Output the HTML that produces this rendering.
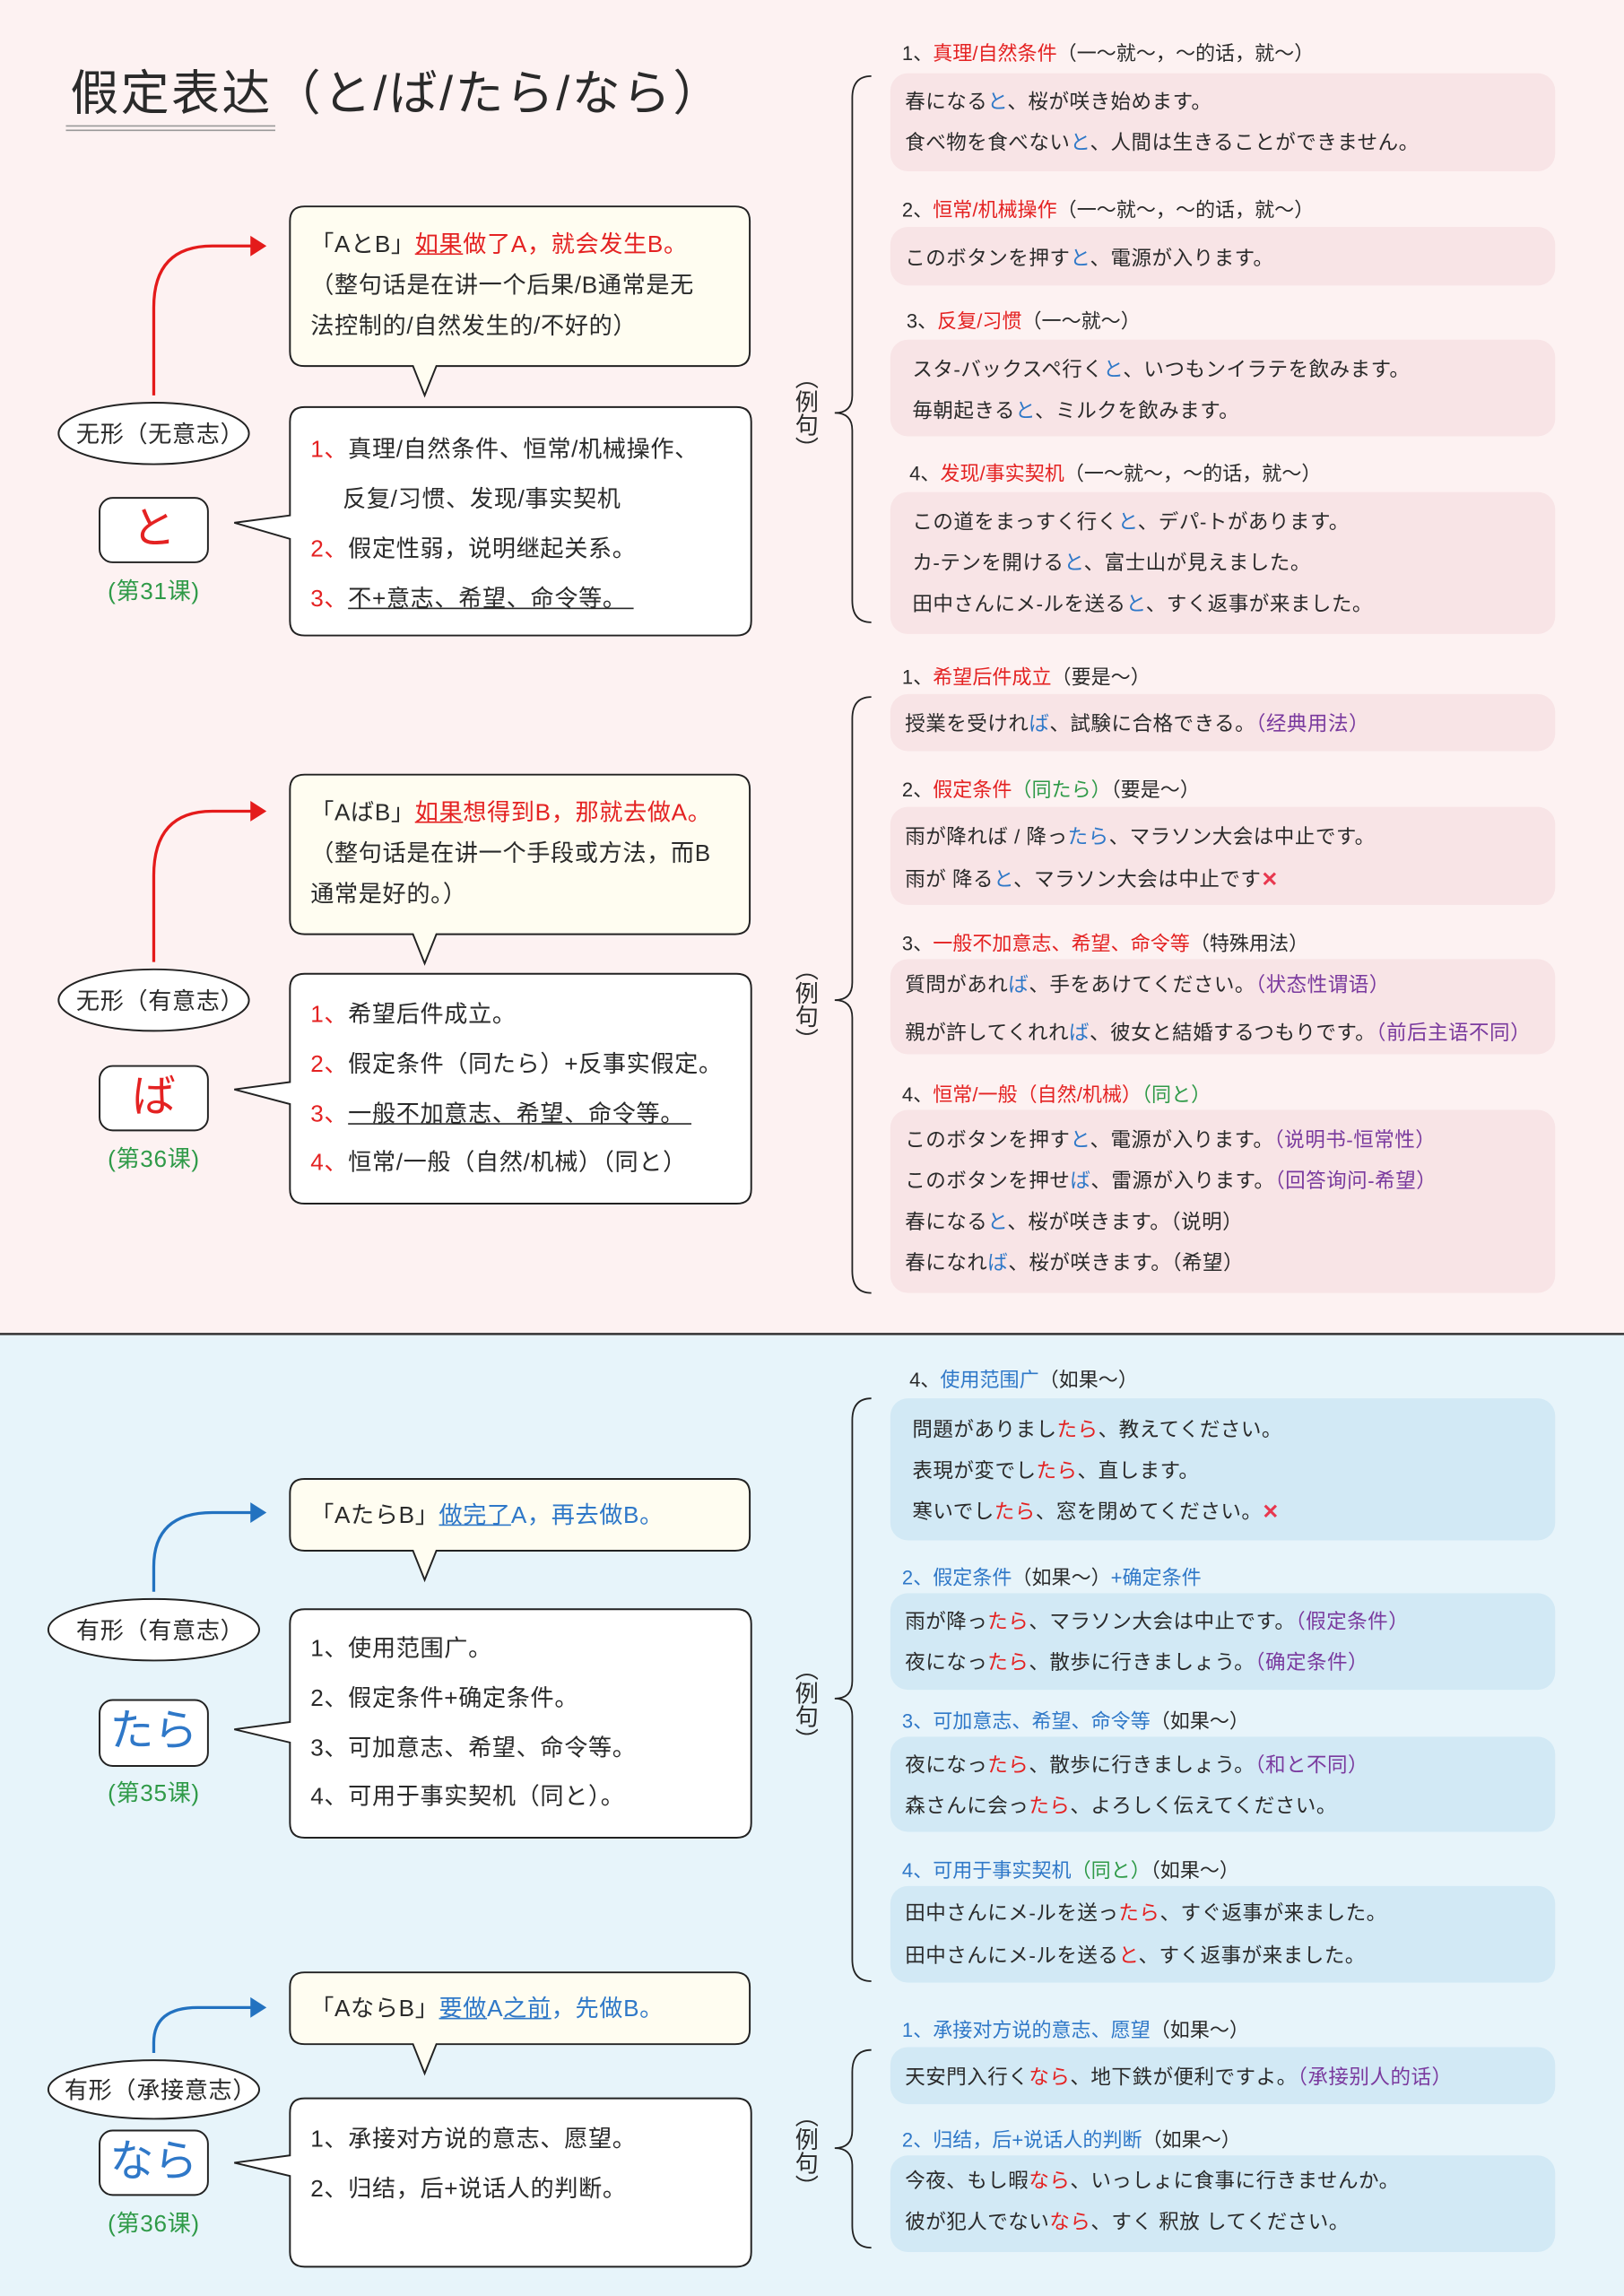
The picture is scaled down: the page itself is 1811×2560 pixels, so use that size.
<!DOCTYPE html>
<html><head><meta charset="utf-8">
<style>
html,body{margin:0;padding:0;}
body{width:1811px;height:2560px;overflow:hidden;position:relative;font-family:"Liberation Sans","Noto Sans CJK SC",sans-serif;color:#2a2a2a;}
#s{position:absolute;left:0;top:0;width:1109px;height:1568px;transform:scale(1.63300,1.63265);transform-origin:0 0;}
.t{position:absolute;white-space:nowrap;line-height:1;margin-top:2px;}
.L{font-size:16px;letter-spacing:0.4px;}
.R{font-size:13.8px;letter-spacing:0.3px;}
.H{font-size:13.5px;}
.r{color:#e42222}.b{color:#2f78c8}.p{color:#7a3a9e}.g{color:#2f9a48}
.v{position:absolute;writing-mode:vertical-rl;font-size:16px;line-height:1;}
</style></head><body>
<div id="s">
<svg width="1109" height="1568" style="position:absolute;left:0;top:0">
<rect x="0" y="0" width="1109" height="911" fill="#fdf2f2"/>
<rect x="0" y="911" width="1109" height="657" fill="#e7f4fa"/>
<line x1="0" y1="911" x2="1109" y2="911" stroke="#333" stroke-width="1.5"/>
<line x1="45" y1="86" x2="188" y2="86" stroke="#999" stroke-width="1"/>
<line x1="45" y1="89" x2="188" y2="89" stroke="#999" stroke-width="1"/>
<g fill="#f8e4e6">
<rect x="608" y="50" width="454" height="67" rx="12"/>
<rect x="608" y="155" width="454" height="40" rx="12"/>
<rect x="608" y="232" width="454" height="66" rx="12"/>
<rect x="608" y="336" width="454" height="97" rx="12"/>
<rect x="608" y="474" width="454" height="39" rx="12"/>
<rect x="608" y="551" width="454" height="67" rx="12"/>
<rect x="608" y="655" width="454" height="65" rx="12"/>
<rect x="608" y="758" width="454" height="125" rx="12"/>
</g>
<g fill="#d2e9f5">
<rect x="608" y="955" width="454" height="97" rx="12"/>
<rect x="608" y="1088" width="454" height="66" rx="12"/>
<rect x="608" y="1186" width="454" height="65" rx="12"/>
<rect x="608" y="1288" width="454" height="66" rx="12"/>
<rect x="608" y="1398" width="454" height="39" rx="12"/>
<rect x="608" y="1472" width="454" height="66" rx="12"/>
</g>
<g stroke="#222" stroke-width="1.1" fill="none">
<path d="M595,52 Q582,52 582,67 V270 Q582,282 570,282 Q582,282 582,294 V410 Q582,425 595,425"/>
<path d="M595,476 Q582,476 582,491 V671 Q582,683 570,683 Q582,683 582,695 V868 Q582,883 595,883"/>
<path d="M595,955 Q582,955 582,970 V1148 Q582,1160 570,1160 Q582,1160 582,1172 V1338 Q582,1353 595,1353"/>
<path d="M595,1400 Q582,1400 582,1415 V1455 Q582,1467 570,1467 Q582,1467 582,1479 V1520 Q582,1535 595,1535"/>
</g>
<g stroke="#222" stroke-width="1.2" fill="#fffdf1">
<path d="M208,141 H502 Q512,141 512,151 V240 Q512,250 502,250 H298 L290,270 L282,250 H208 Q198,250 198,240 V151 Q198,141 208,141 Z"/>
<path d="M208,529 H502 Q512,529 512,539 V628 Q512,638 502,638 H298 L290,658 L282,638 H208 Q198,638 198,628 V539 Q198,529 208,529 Z"/>
<path d="M208,1010 H502 Q512,1010 512,1020 V1049 Q512,1059 502,1059 H298 L290,1079 L282,1059 H208 Q198,1059 198,1049 V1020 Q198,1010 208,1010 Z"/>
<path d="M208,1347 H502 Q512,1347 512,1357 V1386 Q512,1396 502,1396 H298 L290,1416 L282,1396 H208 Q198,1396 198,1386 V1357 Q198,1347 208,1347 Z"/>
</g>
<g stroke="#222" stroke-width="1.2" fill="#fff">
<path d="M208,278 H503 Q513,278 513,288 V424 Q513,434 503,434 H208 Q198,434 198,424 V368 L160,357 L198,352 V288 Q198,278 208,278 Z"/>
<path d="M208,665 H503 Q513,665 513,675 V812 Q513,822 503,822 H208 Q198,822 198,812 V754 L160,744 L198,739 V675 Q198,665 208,665 Z"/>
<path d="M208,1099 H503 Q513,1099 513,1109 V1245 Q513,1255 503,1255 H208 Q198,1255 198,1245 V1190 L160,1181 L198,1176 V1109 Q198,1099 208,1099 Z"/>
<path d="M208,1433 H503 Q513,1433 513,1443 V1538 Q513,1548 503,1548 H208 Q198,1548 198,1538 V1486 L160,1477 L198,1472 V1443 Q198,1433 208,1433 Z"/>
<ellipse cx="105" cy="296" rx="65" ry="21"/>
<ellipse cx="105" cy="683" rx="65" ry="21"/>
<ellipse cx="105" cy="1113" rx="72" ry="21"/>
<ellipse cx="105" cy="1427" rx="72" ry="20"/>
<rect x="68" y="340" width="74" height="44" rx="9"/>
<rect x="68" y="728" width="74" height="44" rx="9"/>
<rect x="68" y="1161" width="74" height="45" rx="9"/>
<rect x="68" y="1455" width="74" height="44" rx="9"/>
</g>
<g fill="none" stroke-width="2">
<path d="M105,270 V210 Q105,168 145,168 H172" stroke="#e41b1b"/>
<path d="M105,657 V598 Q105,554 145,554 H172" stroke="#e41b1b"/>
<path d="M105,1087 V1070 Q105,1033 145,1033 H172" stroke="#2372c0"/>
<path d="M105,1402 V1395 Q105,1371 135,1371 H172" stroke="#2372c0"/>
</g>
<polygon points="171,161 182,168 171,175" fill="#e41b1b"/>
<polygon points="171,547 182,554 171,561" fill="#e41b1b"/>
<polygon points="171,1026 182,1033 171,1040" fill="#2372c0"/>
<polygon points="171,1364 182,1371 171,1378" fill="#2372c0"/>
</svg>

<div class="t" style="left:48px;top:45px;font-size:33px;letter-spacing:1.5px;">假定表达（と/ば/たら/なら）</div>

<!-- と -->
<div class="t L" style="left:212px;top:158px;">「AとB」<span class="r"><u>如果</u>做了A，就会发生B。</span></div>
<div class="t L" style="left:212px;top:186px;">（整句话是在讲一个后果/B通常是无</div>
<div class="t L" style="left:212px;top:214px;">法控制的/自然发生的/不好的）</div>
<div class="t L" style="left:212px;top:298px;"><span class="r">1、</span>真理/自然条件、恒常/机械操作、</div>
<div class="t L" style="left:234px;top:332px;">反复/习惯、发现/事实契机</div>
<div class="t L" style="left:212px;top:366px;"><span class="r">2、</span>假定性弱，说明继起关系。</div>
<div class="t L" style="left:212px;top:400px;"><span class="r">3、</span><u>不+意志、希望、命令等。&nbsp;</u></div>
<div class="t L" style="left:52px;top:288px;">无形（无意志）</div>
<div class="t r" style="left:68px;width:74px;text-align:center;top:345px;font-size:30px;">と</div>
<div class="t L g" style="left:65px;width:80px;text-align:center;top:395px;">(第31课)</div>
<div class="v" style="left:540px;top:250px;">（例句）</div>

<div class="t H" style="left:616px;top:28px;">1、<span class="r">真理/自然条件</span>（一～就～，～的话，就～）</div>
<div class="t R" style="left:618px;top:61px;">春になる<span class="b">と</span>、桜が咲き始めます。</div>
<div class="t R" style="left:618px;top:89px;">食べ物を食べない<span class="b">と</span>、人間は生きることができません。</div>
<div class="t H" style="left:616px;top:135px;">2、<span class="r">恒常/机械操作</span>（一～就～，～的话，就～）</div>
<div class="t R" style="left:618px;top:168px;">このボタンを押す<span class="b">と</span>、電源が入ります。</div>
<div class="t H" style="left:619px;top:211px;">3、<span class="r">反复/习惯</span>（一～就～）</div>
<div class="t R" style="left:623px;top:244px;">スタ-バックスペ行く<span class="b">と</span>、いつもンイラテを飲みます。</div>
<div class="t R" style="left:623px;top:272px;">毎朝起きる<span class="b">と</span>、ミルクを飲みます。</div>
<div class="t H" style="left:621px;top:315px;">4、<span class="r">发现/事实契机</span>（一～就～，～的话，就～）</div>
<div class="t R" style="left:623px;top:348px;">この道をまっすく行く<span class="b">と</span>、デパ-トがあります。</div>
<div class="t R" style="left:623px;top:376px;">カ-テンを開ける<span class="b">と</span>、富士山が見えました。</div>
<div class="t R" style="left:623px;top:404px;">田中さんにメ-ルを送る<span class="b">と</span>、すく返事が来ました。</div>

<!-- ば -->
<div class="t L" style="left:212px;top:546px;">「AばB」<span class="r"><u>如果</u>想得到B，那就去做A。</span></div>
<div class="t L" style="left:212px;top:574px;">（整句话是在讲一个手段或方法，而B</div>
<div class="t L" style="left:212px;top:602px;">通常是好的。）</div>
<div class="t L" style="left:212px;top:684px;"><span class="r">1、</span>希望后件成立。</div>
<div class="t L" style="left:212px;top:718px;"><span class="r">2、</span>假定条件（同たら）+反事实假定。</div>
<div class="t L" style="left:212px;top:752px;"><span class="r">3、</span><u>一般不加意志、希望、命令等。&nbsp;</u></div>
<div class="t L" style="left:212px;top:785px;"><span class="r">4、</span>恒常/一般（自然/机械）（同と）</div>
<div class="t L" style="left:52px;top:675px;">无形（有意志）</div>
<div class="t r" style="left:68px;width:74px;text-align:center;top:733px;font-size:30px;">ば</div>
<div class="t L g" style="left:65px;width:80px;text-align:center;top:783px;">(第36课)</div>
<div class="v" style="left:540px;top:654px;">（例句）</div>

<div class="t H" style="left:616px;top:454px;">1、<span class="r">希望后件成立</span>（要是～）</div>
<div class="t R" style="left:618px;top:486px;">授業を受けれ<span class="b">ば</span>、試験に合格できる。<span class="p">（经典用法）</span></div>
<div class="t H" style="left:616px;top:531px;">2、<span class="r">假定条件</span><span class="g">（同たら）</span>（要是～）</div>
<div class="t R" style="left:618px;top:563px;">雨が降れば / 降っ<span class="b">たら</span>、マラソン大会は中止です。</div>
<div class="t R" style="left:618px;top:592px;">雨が 降る<span class="b">と</span>、マラソン大会は中止です<span style="color:#e8384f;font-weight:bold;">✕</span></div>
<div class="t H" style="left:616px;top:636px;">3、<span class="r">一般不加意志、希望、命令等</span>（特殊用法）</div>
<div class="t R" style="left:618px;top:664px;">質問があれ<span class="b">ば</span>、手をあけてください。<span class="p">（状态性谓语）</span></div>
<div class="t R" style="left:618px;top:697px;">親が許してくれれ<span class="b">ば</span>、彼女と結婚するつもりです。<span class="p">（前后主语不同）</span></div>
<div class="t H" style="left:616px;top:739px;">4、<span class="r">恒常/一般（自然/机械）</span><span class="g">（同と）</span></div>
<div class="t R" style="left:618px;top:770px;">このボタンを押す<span class="b">と</span>、電源が入ります。<span class="p">（说明书-恒常性）</span></div>
<div class="t R" style="left:618px;top:798px;">このボタンを押せ<span class="b">ば</span>、雷源が入ります。<span class="p">（回答询问-希望）</span></div>
<div class="t R" style="left:618px;top:826px;">春になる<span class="b">と</span>、桜が咲きます。（说明）</div>
<div class="t R" style="left:618px;top:854px;">春になれ<span class="b">ば</span>、桜が咲きます。（希望）</div>

<!-- たら -->
<div class="t L" style="left:212px;top:1026px;">「AたらB」<span class="b"><u>做完了</u>A，再去做B。</span></div>
<div class="t L" style="left:212px;top:1117px;">1、使用范围广。</div>
<div class="t L" style="left:212px;top:1151px;">2、假定条件+确定条件。</div>
<div class="t L" style="left:212px;top:1185px;">3、可加意志、希望、命令等。</div>
<div class="t L" style="left:212px;top:1218px;">4、可用于事实契机（同と）。</div>
<div class="t L" style="left:52px;top:1105px;">有形（有意志）</div>
<div class="t b" style="left:68px;width:74px;text-align:center;top:1166px;font-size:30px;">たら</div>
<div class="t L g" style="left:65px;width:80px;text-align:center;top:1216px;">(第35课)</div>
<div class="v" style="left:540px;top:1132px;">（例句）</div>

<div class="t H" style="left:621px;top:934px;">4、<span class="b">使用范围广</span>（如果～）</div>
<div class="t R" style="left:623px;top:968px;">問題がありまし<span class="r">たら</span>、教えてください。</div>
<div class="t R" style="left:623px;top:996px;">表現が変でし<span class="r">たら</span>、直します。</div>
<div class="t R" style="left:623px;top:1024px;">寒いでし<span class="r">たら</span>、窓を閉めてください。<span style="color:#e8384f;font-weight:bold;">✕</span></div>
<div class="t H" style="left:616px;top:1069px;"><span class="b">2、假定条件</span>（如果～）<span class="b">+确定条件</span></div>
<div class="t R" style="left:618px;top:1099px;">雨が降っ<span class="r">たら</span>、マラソン大会は中止です。<span class="p">（假定条件）</span></div>
<div class="t R" style="left:618px;top:1127px;">夜になっ<span class="r">たら</span>、散歩に行きましょう。<span class="p">（确定条件）</span></div>
<div class="t H" style="left:616px;top:1167px;"><span class="b">3、可加意志、希望、命令等</span>（如果～）</div>
<div class="t R" style="left:618px;top:1197px;">夜になっ<span class="r">たら</span>、散歩に行きましょう。<span class="p">（和と不同）</span></div>
<div class="t R" style="left:618px;top:1225px;">森さんに会っ<span class="r">たら</span>、よろしく伝えてください。</div>
<div class="t H" style="left:616px;top:1269px;"><span class="b">4、可用于事实契机</span><span class="g">（同と）</span>（如果～）</div>
<div class="t R" style="left:618px;top:1298px;">田中さんにメ-ルを送っ<span class="r">たら</span>、すぐ返事が来ました。</div>
<div class="t R" style="left:618px;top:1327px;">田中さんにメ-ルを送る<span class="r">と</span>、すく返事が来ました。</div>

<!-- なら -->
<div class="t L" style="left:212px;top:1363px;">「AならB」<span class="b"><u>要做</u>A<u>之前</u>，先做B。</span></div>
<div class="t L" style="left:212px;top:1452px;">1、承接对方说的意志、愿望。</div>
<div class="t L" style="left:212px;top:1486px;">2、归结，后+说话人的判断。</div>
<div class="t L" style="left:44px;top:1419px;">有形（承接意志）</div>
<div class="t b" style="left:68px;width:74px;text-align:center;top:1460px;font-size:30px;">なら</div>
<div class="t L g" style="left:65px;width:80px;text-align:center;top:1510px;">(第36课)</div>
<div class="v" style="left:540px;top:1437px;">（例句）</div>

<div class="t H" style="left:616px;top:1378px;"><span class="b">1、承接对方说的意志、愿望</span>（如果～）</div>
<div class="t R" style="left:618px;top:1410px;">天安門入行く<span class="r">なら</span>、地下鉄が便利ですよ。<span class="p">（承接别人的话）</span></div>
<div class="t H" style="left:616px;top:1453px;"><span class="b">2、归结，后+说话人的判断</span>（如果～）</div>
<div class="t R" style="left:618px;top:1481px;">今夜、もし暇<span class="r">なら</span>、いっしょに食事に行きませんか。</div>
<div class="t R" style="left:618px;top:1509px;">彼が犯人でない<span class="r">なら</span>、すく 釈放 してください。</div>
</div>
</body></html>
